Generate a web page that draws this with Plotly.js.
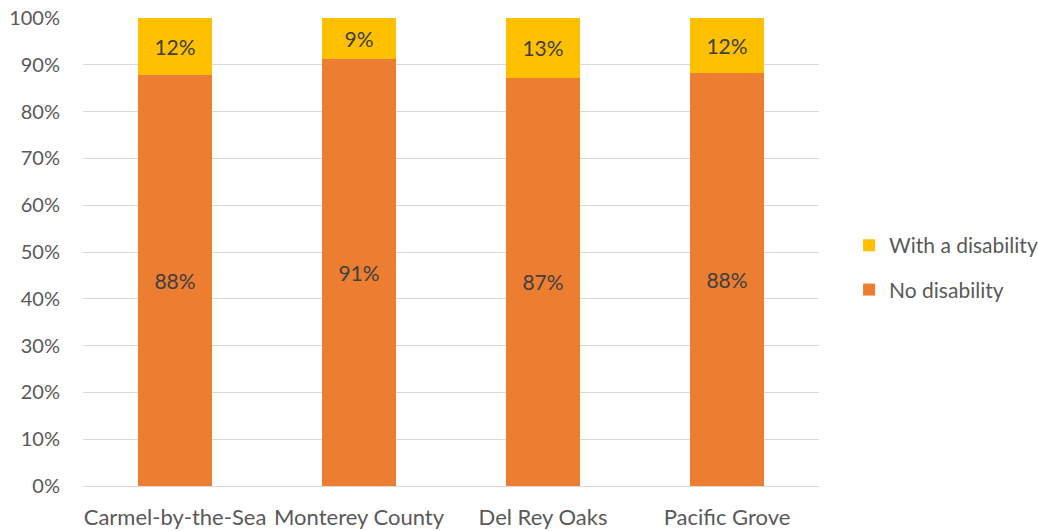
<!DOCTYPE html>
<html><head><meta charset="utf-8">
<script src="https://cdn.plot.ly/plotly-3.0.1.min.js"></script>
<style>body{margin:0;background:#fff}#c{width:1038px;height:531px}</style>
</head><body><div id="c"></div>
<script>
const categories = ["Carmel-by-the-Sea", "Monterey County", "Del Rey Oaks", "Pacific Grove"];
const noDisability = [0.878, 0.912, 0.872, 0.883];
const withDisability = [0.122, 0.088, 0.128, 0.117];
const yTickVals = [0,0.1,0.2,0.3,0.4,0.5,0.6,0.7,0.8,0.9,1.0];
const yTickText = ["0%","10%","20%","30%","40%","50%","60%","70%","80%","90%","100%"];

const font = "Lato, 'Open Sans', sans-serif";
const traces = [
  {type:'bar', name:'No disability', x:categories, y:noDisability, legendgroup:'a', legendrank:2,
   marker:{color:'#ED7D31'}, texttemplate:'%{y:.0%}', textposition:'inside', insidetextanchor:'middle',
   textfont:{color:'#404040', size:21, family:font}, hoverinfo:'none'},
  {type:'bar', name:'With a disability', x:categories, y:withDisability, legendgroup:'b', legendrank:1,
   marker:{color:'#FFC000'}, texttemplate:'%{y:.0%}', textposition:'inside', insidetextanchor:'middle',
   textfont:{color:'#404040', size:21, family:font}, hoverinfo:'none'}
];
const layout = {
  width:1038, height:531, barmode:'stack', bargap:0.6,
  margin:{l:83, r:219, t:18, b:45, autoexpand:false},
  paper_bgcolor:'#fff', plot_bgcolor:'#fff',
  font:{family:font, color:'#595959', size:20},
  xaxis:{showgrid:false, showline:true, linecolor:'#d9d9d9', linewidth:1, ticks:'', tickfont:{size:22}, ticklabelstandoff:12},
  yaxis:{range:[0,1], tickvals:yTickVals, ticktext:yTickText, gridcolor:'#d9d9d9', gridwidth:1,
         zeroline:false, showline:false, ticks:'', tickfont:{size:20}, ticklabelstandoff:22},
  legend:{xref:'container', yref:'container', x:0.818, xanchor:'left', y:0.496, yanchor:'middle', traceorder:'grouped', tracegroupgap:14,
          font:{size:21, color:'#595959'}, itemwidth:30},
  showlegend:true
};
Plotly.newPlot('c', traces, layout, {displayModeBar:false, staticPlot:true});
</script></body></html>
